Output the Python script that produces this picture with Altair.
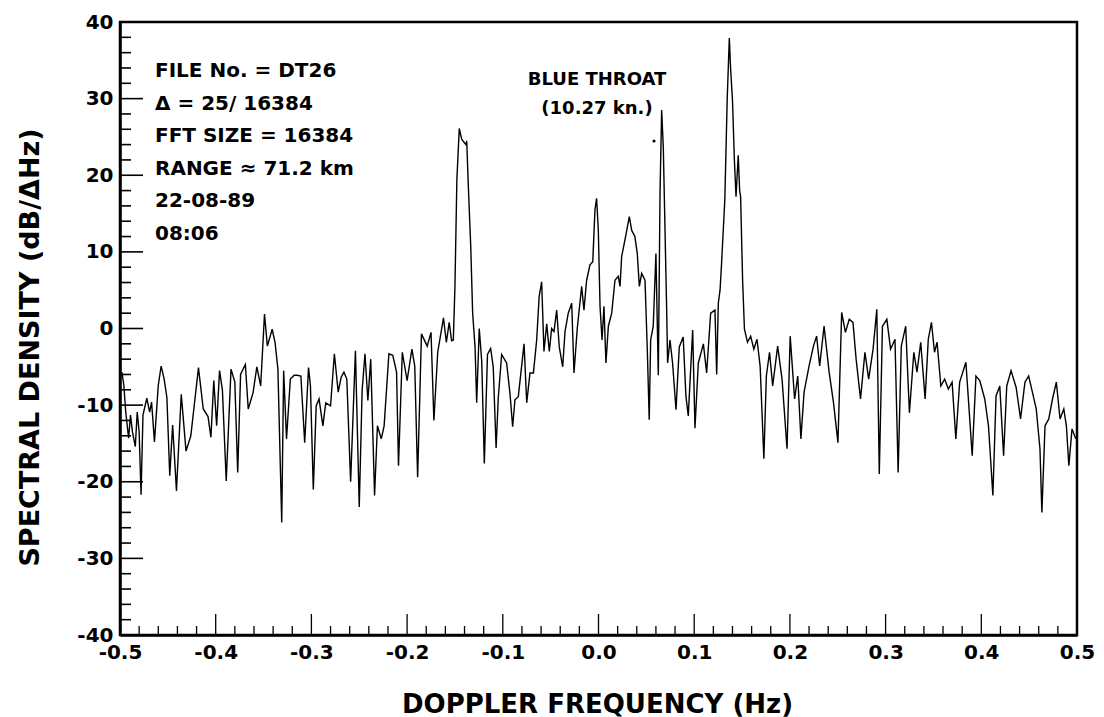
import altair as alt
import pandas as pd

# Doppler frequency (Hz) and spectral density (dB/ΔHz)
freq = [
    -0.498, -0.496, -0.494, -0.491, -0.489, -0.487, -0.484, -0.482, -0.480, -0.478,
    -0.476, -0.472, -0.469, -0.467, -0.464, -0.460, -0.457, -0.454, -0.451, -0.448,
    -0.445, -0.441, -0.436, -0.431, -0.426, -0.418, -0.413, -0.408, -0.405, -0.402,
    -0.399, -0.396, -0.393, -0.389, -0.384, -0.380, -0.377, -0.374, -0.369, -0.366,
    -0.361, -0.357, -0.353, -0.349, -0.346, -0.341, -0.338, -0.335, -0.331, -0.329,
    -0.326, -0.322, -0.318, -0.315, -0.311, -0.307, -0.303, -0.301, -0.298, -0.295,
    -0.292, -0.288, -0.285, -0.280, -0.276, -0.272, -0.269, -0.266, -0.263, -0.259,
    -0.254, -0.250, -0.247, -0.244, -0.241, -0.238, -0.234, -0.231, -0.227, -0.224,
    -0.219, -0.215, -0.211, -0.209, -0.205, -0.200, -0.195, -0.192, -0.189, -0.185,
    -0.179, -0.175, -0.172, -0.168, -0.162, -0.159, -0.156, -0.1535, -0.1517, -0.150,
    -0.148, -0.1455, -0.143, -0.1405, -0.1385, -0.1377, -0.136, -0.1335, -0.1315, -0.129,
    -0.1273, -0.1246, -0.122, -0.1193, -0.116, -0.1127, -0.110, -0.107, -0.1047, -0.1012,
    -0.096, -0.0925, -0.0897, -0.0873, -0.0838, -0.0778, -0.075, -0.0716, -0.068, -0.0646,
    -0.062, -0.0594, -0.057, -0.0541, -0.0514, -0.049, -0.0465, -0.0437, -0.041, -0.0374,
    -0.035, -0.0316, -0.028, -0.0256, -0.0222, -0.0176, -0.0152, -0.0124, -0.0089, -0.006,
    -0.0037, -0.002, -0.0002, 0.0016, 0.0037, 0.0057, 0.0078, 0.0103, 0.0138, 0.0172,
    0.0207, 0.0225, 0.0242, 0.0277, 0.0322, 0.0347, 0.038, 0.0405, 0.0427, 0.0451,
    0.0486, 0.051, 0.053, 0.0545, 0.0572, 0.060, 0.0625, 0.0643, 0.066, 0.0677,
    0.0695, 0.0713, 0.0722, 0.0747, 0.0774, 0.081, 0.0844, 0.0885, 0.0914, 0.0938,
    0.0984, 0.1008, 0.1043, 0.1096, 0.113, 0.1172, 0.1217, 0.1235, 0.1252, 0.127,
    0.1286, 0.132, 0.1345, 0.1367, 0.138, 0.140, 0.142, 0.1437, 0.146, 0.1475,
    0.1485, 0.1506, 0.1525, 0.1557, 0.159, 0.1623, 0.1656, 0.1689, 0.1728, 0.1754,
    0.1787, 0.182, 0.1872, 0.1918, 0.197, 0.2003, 0.2049, 0.2082, 0.2115, 0.2148,
    0.22, 0.2246, 0.2279, 0.2311, 0.2357, 0.241, 0.2456, 0.2502, 0.2541, 0.258,
    0.262, 0.2659, 0.2692, 0.2738, 0.2784, 0.2823, 0.2869, 0.2908, 0.2934, 0.2967,
    0.3013, 0.3052, 0.3098, 0.3131, 0.3164, 0.321, 0.3249, 0.3295, 0.3328, 0.3367,
    0.3413, 0.3446, 0.3479, 0.3511, 0.3538, 0.3577, 0.3617, 0.3656, 0.3695, 0.3734,
    0.3774, 0.3839, 0.3879, 0.3905, 0.3944, 0.3984, 0.4036, 0.4075, 0.4121, 0.4154,
    0.4193, 0.4233, 0.4266, 0.4311, 0.4364, 0.441, 0.4456, 0.4495, 0.4534, 0.4574,
    0.4613, 0.4633, 0.4666, 0.4705, 0.4744, 0.4784, 0.4823, 0.4862, 0.4889, 0.4915,
    0.4948, 0.4987,
]
db = [
    -5.7, -7.4, -10.9, -14.3, -11.3, -13.5, -15.4, -10.9, -13.5, -21.7,
    -11.3, -9.1, -10.9, -9.6, -14.8, -7.4, -4.9, -6.5, -9.0, -19.2,
    -12.6, -21.2, -8.6, -16.0, -14.0, -5.1, -10.5, -11.5, -14.2, -6.8,
    -12.7, -5.5, -8.0, -19.9, -5.3, -7.0, -18.8, -6.0, -4.7, -10.5,
    -8.4, -5.0, -7.5, 1.9, -2.3, -0.1, -1.8, -5.3, -25.3, -5.5,
    -14.4, -6.6, -6.1, -6.1, -6.2, -14.9, -5.1, -7.5, -21.0, -10.1,
    -9.2, -12.7, -9.7, -10.1, -3.3, -8.3, -6.4, -5.7, -6.6, -20.0,
    -2.9, -23.3, -8.1, -3.3, -9.4, -4.0, -21.8, -12.7, -14.4, -12.7,
    -3.3, -3.5, -5.7, -17.9, -3.1, -6.8, -2.7, -4.9, -19.4, -0.7,
    -2.3, -0.5, -12.0, -3.1, 1.4, -1.8, 0.8, -1.6, -1.5, 5.5,
    19.4, 26.1, 24.7, 24.3, 24.0, 24.5, 18.5, 10.7, 2.0, -2.4,
    -9.7, 0.0, -4.3, -17.6, -3.4, -2.6, -5.0, -15.6, -9.0, -3.4,
    -4.5, -8.5, -12.8, -9.3, -8.9, -2.0, -9.7, -5.8, -5.8, -1.5,
    4.2, 6.1, -3.0, 0.6, -3.0, 0.0, -0.4, 2.4, -2.4, -5.0,
    -0.4, 2.0, 3.3, -5.8, 0.0, 5.5, 2.4, 6.3, 8.3, 8.7,
    15.5, 17.0, 12.9, 2.9, -1.5, 2.9, -4.5, 0.3, 2.0, 6.3,
    6.8, 5.5, 9.4, 11.6, 14.6, 12.8, 12.0, 9.8, 5.5, 7.2,
    6.3, -2.8, -11.9, -1.5, 0.3, 9.8, -6.1, 17.7, 28.5, 23.7,
    12.9, 2.0, -4.5, -1.5, -4.5, -10.6, -2.4, -1.1, -8.9, -11.4,
    -0.2, -13.0, -4.5, -2.0, -5.8, 2.0, 2.4, -6.0, 3.3, 5.0,
    8.5, 16.8, 30.0, 37.9, 34.0, 29.8, 22.0, 17.2, 22.6, 18.0,
    17.2, 6.2, -0.1, -1.8, -1.0, -2.7, -1.4, -4.9, -17.0, -6.2,
    -3.1, -7.5, -2.3, -6.6, -15.7, -1.0, -9.2, -6.2, -14.4, -8.3,
    -4.9, -2.3, -1.0, -4.9, 0.3, -5.7, -9.7, -14.9, 2.1, -0.5,
    1.2, 0.8, -4.0, -9.2, -3.1, -6.6, -2.7, 2.5, -19.0, 0.3,
    1.2, -2.7, -1.4, -18.8, -2.3, 0.3, -11.0, -3.1, -5.7, -1.8,
    -9.2, -1.4, 0.8, -3.1, -1.8, -7.5, -6.6, -7.9, -7.0, -14.4,
    -7.0, -4.4, -11.8, -16.6, -6.2, -6.8, -9.2, -12.7, -21.8, -8.8,
    -7.5, -16.6, -7.5, -5.5, -7.7, -11.8, -7.0, -6.2, -8.3, -10.5,
    -15.7, -24.0, -12.7, -11.8, -9.2, -7.0, -11.8, -10.5, -12.7, -17.9,
    -13.1, -14.4,
]

# axis ticks and labels
x_labels = [-0.5, -0.4, -0.3, -0.2, -0.1, 0.0, 0.1, 0.2, 0.3, 0.4, 0.5]
y_labels = [-40, -30, -20, -10, 0, 10, 20, 30, 40]
x_major_ticks = [-0.4, -0.3, -0.2, -0.1, 0.0, 0.1, 0.2, 0.3, 0.4]
x_minor_ticks = [
    -0.48, -0.46, -0.44, -0.42, -0.38, -0.36, -0.34, -0.32, -0.28, -0.26,
    -0.24, -0.22, -0.18, -0.16, -0.14, -0.12, -0.08, -0.06, -0.04, -0.02,
    0.02, 0.04, 0.06, 0.08, 0.12, 0.14, 0.16, 0.18, 0.22, 0.24,
    0.26, 0.28, 0.32, 0.34, 0.36, 0.38, 0.42, 0.44, 0.46, 0.48,
]
y_major_ticks = [-30, -20, -10, 0, 10, 20, 30]
y_minor_ticks = [
    -38, -36, -34, -32, -28, -26, -24, -22, -18, -16, -14, -12, -8, -6, -4, -2,
    2, 4, 6, 8, 12, 14, 16, 18, 22, 24, 26, 28, 32, 34, 36, 38,
]

info_text = "FILE No. = DT26\nΔ = 25/ 16384\nFFT SIZE = 16384\nRANGE ≈ 71.2 km\n22-08-89\n08:06"
target_text = "BLUE THROAT\n(10.27 kn.)"

FONT = "DejaVu Sans"
W, H = 957, 613
HYPHEN = "replace(datum.label, '\u2212', '-')"

xscale = alt.Scale(domain=[-0.5, 0.5], nice=False, zero=False)
yscale = alt.Scale(domain=[-40, 40], nice=False, zero=False)

spec = pd.DataFrame({"f": freq, "db": db})

line = alt.Chart(spec).mark_line(color="black", strokeWidth=1.4).encode(
    x=alt.X("f:Q", scale=xscale,
            axis=alt.Axis(values=x_labels, format=".1f", labelExpr=HYPHEN,
                          ticks=False, grid=False,
                          labelFlush=False, labelPadding=7, labelFontSize=20,
                          labelFont=FONT, labelFontWeight="bold", labelColor="black",
                          domainColor="black", domainWidth=2.5,
                          title="DOPPLER  FREQUENCY (Hz)", titleFont=FONT,
                          titleFontSize=26, titleFontWeight="bold", titleColor="black",
                          titleX=477, titleY=69, titleBaseline="middle")),
    y=alt.Y("db:Q", scale=yscale,
            axis=alt.Axis(values=y_labels, format="d", labelExpr=HYPHEN,
                          ticks=False, grid=False,
                          labelFlush=False, labelPadding=7, labelFontSize=20,
                          labelFont=FONT, labelFontWeight="bold", labelColor="black",
                          domainColor="black", domainWidth=2.5,
                          title="SPECTRAL  DENSITY (dB/ΔHz)", titleFont=FONT,
                          titleFontSize=27, titleFontWeight="bold", titleColor="black",
                          titleX=-90, titleY=325, titleAlign="center",
                          titleBaseline="middle", titleAngle=270)),
    order="f:Q",
)

ymaj = alt.Chart(pd.DataFrame({"v": y_major_ticks})).mark_rule(color="black", strokeWidth=1.6).encode(
    y=alt.Y("v:Q", scale=yscale), x=alt.value(0), x2=alt.value(23))
ymin = alt.Chart(pd.DataFrame({"v": y_minor_ticks})).mark_rule(color="black", strokeWidth=1.6).encode(
    y=alt.Y("v:Q", scale=yscale), x=alt.value(0), x2=alt.value(11))
xmaj = alt.Chart(pd.DataFrame({"v": x_major_ticks})).mark_rule(color="black", strokeWidth=1.3).encode(
    x=alt.X("v:Q", scale=xscale), y=alt.value(H), y2=alt.value(H - 21))
xmin = alt.Chart(pd.DataFrame({"v": x_minor_ticks})).mark_rule(color="black", strokeWidth=1.3).encode(
    x=alt.X("v:Q", scale=xscale), y=alt.value(H), y2=alt.value(H - 9))

info = alt.Chart(pd.DataFrame({"t": [info_text]})).mark_text(
    align="left", baseline="alphabetic", lineBreak="\n", lineHeight=32.5,
    font=FONT, fontWeight="bold", fontSize=20, color="black",
).encode(text="t:N", x=alt.value(35), y=alt.value(55))

target = alt.Chart(pd.DataFrame({"t": [target_text]})).mark_text(
    align="center", baseline="alphabetic", lineBreak="\n", lineHeight=29,
    font=FONT, fontWeight="bold", fontSize=18, color="black",
).encode(text="t:N", x=alt.value(477), y=alt.value(63))

dot = alt.Chart(pd.DataFrame({"t": [0]})).mark_point(
    filled=True, color="black", size=10, opacity=1
).encode(x=alt.value(534), y=alt.value(119))

chart = alt.layer(line, ymaj, ymin, xmaj, xmin, info, target, dot).properties(
    width=W, height=H,
    autosize=alt.AutoSizeParams(type="none"),
    padding={"left": 120, "top": 22, "right": 27, "bottom": 82},
    background="white",
).configure_view(stroke="black", strokeWidth=2.5)

chart.save("out.html", embed_options={"renderer": "svg", "actions": False})
